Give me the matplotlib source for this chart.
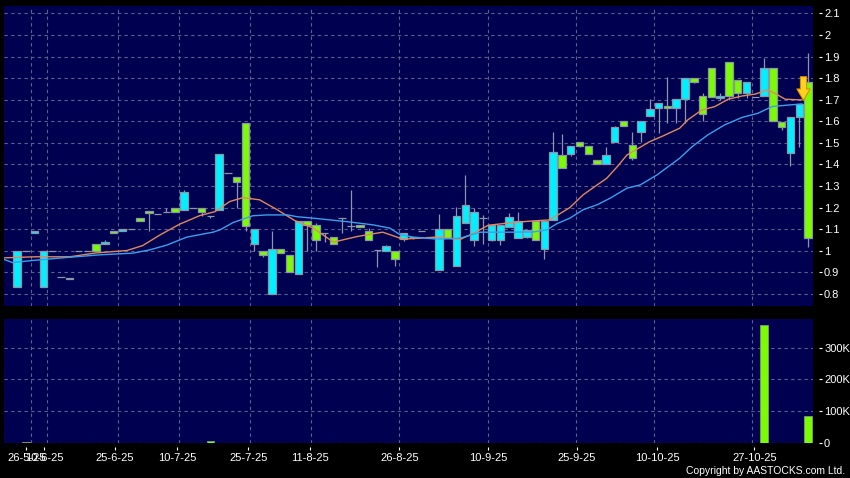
import matplotlib.pyplot as plt
import numpy as np
from matplotlib.path import Path
from matplotlib.ticker import FuncFormatter

plt.rcParams['font.family'] = ['Liberation Sans', 'DejaVu Sans']

# daily candles, oldest first (one entry per trading day on the chart)
opens = [0.83, 1.00, 1.08, 0.83, 1.00, 0.88, 0.87, 1.00, 1.00, 1.03,
         1.03, 1.09, 1.09, 1.10, 1.15, 1.185, 1.17, 1.18, 1.20, 1.19,
         1.20, 1.20, 1.16, 1.19, 1.36, 1.34, 1.59, 1.03, 1.00, 0.80,
         1.01, 0.98, 0.89, 1.14, 1.12, 1.08, 1.065, 1.15, 1.115, 1.117,
         1.09, 1.005, 1.00, 1.00, 1.055, 1.063, 1.09, 1.063, 0.91, 1.10,
         0.93, 1.13, 1.05, 1.15, 1.05, 1.05, 1.112, 1.058, 1.066, 1.137,
         1.01, 1.143, 1.443, 1.449, 1.503, 1.487, 1.419, 1.401, 1.503, 1.60,
         1.489, 1.549, 1.623, 1.66, 1.671, 1.66, 1.702, 1.802, 1.718, 1.849,
         1.709, 1.873, 1.791, 1.73, 1.711, 1.718, 1.849, 1.598, 1.452, 1.621,
         1.783]
highs = [1.00, 1.00, 1.09, 1.00, 1.00, 0.88, 0.875, 1.00, 1.00, 1.03,
         1.05, 1.09, 1.10, 1.10, 1.15, 1.185, 1.17, 1.20, 1.20, 1.28,
         1.20, 1.20, 1.16, 1.45, 1.36, 1.34, 1.59, 1.10, 1.00, 1.09,
         1.01, 0.98, 1.14, 1.14, 1.13, 1.08, 1.065, 1.15, 1.28, 1.117,
         1.105, 1.005, 1.025, 1.00, 1.08, 1.063, 1.09, 1.063, 1.17, 1.10,
         1.205, 1.35, 1.20, 1.165, 1.117, 1.117, 1.174, 1.18, 1.094, 1.137,
         1.137, 1.55, 1.54, 1.487, 1.503, 1.487, 1.419, 1.482, 1.58, 1.60,
         1.549, 1.60, 1.702, 1.683, 1.804, 1.702, 1.802, 1.802, 1.73, 1.849,
         1.73, 1.873, 1.791, 1.782, 1.711, 1.892, 1.849, 1.598, 1.621, 1.682,
         1.915]
lows = [0.83, 1.00, 1.08, 0.83, 1.00, 0.88, 0.87, 1.00, 1.00, 1.00,
        1.03, 1.08, 1.09, 1.10, 1.14, 1.09, 1.17, 1.18, 1.18, 1.19,
        1.20, 1.16, 1.15, 1.19, 1.36, 1.20, 1.09, 1.00, 0.97, 0.80,
        0.99, 0.90, 0.89, 1.00, 1.00, 1.04, 1.03, 1.08, 1.09, 1.108,
        1.05, 0.925, 1.00, 0.93, 1.045, 1.055, 1.09, 1.063, 0.91, 1.06,
        0.93, 1.13, 1.02, 1.03, 1.045, 1.027, 1.112, 1.058, 1.06, 1.05,
        0.96, 1.143, 1.382, 1.44, 1.48, 1.45, 1.401, 1.401, 1.503, 1.58,
        1.42, 1.503, 1.623, 1.547, 1.591, 1.59, 1.59, 1.775, 1.603, 1.711,
        1.70, 1.70, 1.71, 1.71, 1.711, 1.718, 1.601, 1.56, 1.393, 1.48,
        1.017]
closes = [1.00, 1.00, 1.09, 1.00, 1.00, 0.88, 0.875, 1.00, 1.00, 1.00,
          1.04, 1.08, 1.10, 1.10, 1.14, 1.175, 1.17, 1.18, 1.18, 1.27,
          1.20, 1.18, 1.16, 1.45, 1.36, 1.32, 1.115, 1.10, 0.98, 1.01,
          0.99, 0.90, 1.14, 1.12, 1.05, 1.08, 1.03, 1.15, 1.115, 1.108,
          1.05, 1.005, 1.02, 0.96, 1.08, 1.063, 1.09, 1.063, 1.10, 1.06,
          1.16, 1.21, 1.18, 1.15, 1.117, 1.117, 1.158, 1.137, 1.094, 1.05,
          1.137, 1.459, 1.382, 1.487, 1.487, 1.45, 1.401, 1.443, 1.572, 1.58,
          1.429, 1.60, 1.658, 1.683, 1.66, 1.702, 1.802, 1.782, 1.632, 1.711,
          1.718, 1.718, 1.73, 1.782, 1.711, 1.849, 1.601, 1.572, 1.621, 1.682,
          1.058]
volumes = [0] * 91
volumes[1] = 4000
volumes[22] = 6000
volumes[56] = 1000
volumes[61] = 1000
volumes[71] = 1000
volumes[85] = 370000
volumes[90] = 85000

# moving averages (candle index, price)
ma_fast_idx = [-1.5, 2, 6, 9, 12.5, 14.3, 16.3, 18.5, 20.8, 22.5, 24.2, 25.7,
               27.6, 29.6, 31.6, 33.7, 36, 38.7, 41.6, 43.9, 45.8, 47.8, 50.4,
               51.9, 53.6, 56.4, 58.7, 60.6, 62.9, 64.4, 66, 67.1, 68.3, 69.4,
               70.5, 72, 73.5, 75.4, 76.3, 77.9, 79.4, 80.9, 82.5, 84, 85.4,
               86.2, 87.4, 89.3]
ma_fast = [0.967, 0.972, 0.972, 0.99, 1.001, 1.024, 1.074, 1.123, 1.163, 1.181,
           1.228, 1.246, 1.236, 1.19, 1.14, 1.105, 1.04, 1.066, 1.086, 1.054,
           1.058, 1.063, 1.052, 1.08, 1.118, 1.131, 1.138, 1.143, 1.20, 1.259,
           1.305, 1.336, 1.39, 1.444, 1.47, 1.506, 1.532, 1.568, 1.606, 1.652,
           1.668, 1.702, 1.717, 1.726, 1.745, 1.73, 1.702, 1.699]
ma_slow_idx = [-1.5, -0.5, 1.8, 5.7, 9.4, 13.2, 15.1, 17.1, 19.3, 22.3, 23.1,
               24.6, 26.8, 28.4, 30.8, 31.8, 33.7, 37.5, 40.5, 42.4, 43.6, 45.1,
               47.8, 50.4, 52.7, 55.7, 58.7, 60.3, 61.4, 62.9, 64.4, 66, 67.5,
               69.4, 70.9, 72.8, 75.4, 76.8, 78.6, 80.5, 82.5, 84.3, 85.9, 87.7,
               89.3]
ma_slow = [0.96, 0.945, 0.955, 0.969, 0.981, 0.989, 1.004, 1.027, 1.063, 1.086,
           1.097, 1.131, 1.162, 1.166, 1.166, 1.158, 1.151, 1.135, 1.12, 1.105,
           1.074, 1.063, 1.054, 1.058, 1.086, 1.086, 1.087, 1.097, 1.125, 1.151,
           1.19, 1.213, 1.244, 1.29, 1.305, 1.351, 1.429, 1.482, 1.537, 1.583,
           1.618, 1.637, 1.668, 1.675, 1.68]

# signal arrow on the chart (candle index, price at its tip)
arrow_idx = 89.45
arrow_tip = 1.70

date_labels = ['26-5-25', '10-6-25', '25-6-25', '10-7-25', '25-7-25', '11-8-25',
               '26-8-25', '10-9-25', '25-9-25', '10-10-25', '27-10-25']
date_tick_idx = [1.06, 3.11, 11.15, 18.24, 26.31, 33.37, 43.49, 53.62, 63.71,
                 72.84, 83.88]
date_grid_idx = [1.56, 3.45, 11.52, 18.46, 26.54, 33.48, 43.49, 53.55, 63.56,
                 72.5, 83.58]

UP = '#00f0ff'
DOWN = '#7cfc00'
EDGE = '#8c96a8'
NAVY = '#000050'
GRID = '#5e5e90'

idx = np.arange(len(opens))
o = np.array(opens)
c = np.array(closes)
body_lo = np.minimum(o, c)
body_h = np.abs(c - o)
colors = [UP if cc >= oo else DOWN for oo, cc in zip(o, c)]

fig = plt.figure(figsize=(8.5, 4.78), dpi=100, facecolor='black')
ax = fig.add_axes([4 / 850, 1 - 306 / 478, 809 / 850, 300 / 478])
axv = fig.add_axes([4 / 850, 1 - 443 / 478, 809 / 850, 124 / 478])

for a in (ax, axv):
    a.set_facecolor(NAVY)
    for s in a.spines.values():
        s.set_visible(False)
    a.spines['right'].set_position(('outward', 4))
    a.spines['bottom'].set_position(('outward', 3))
    a.yaxis.tick_right()
    a.tick_params(axis='y', direction='out', length=2.5, width=0.8,
                  colors='white', labelsize=8, pad=1.5)
    a.grid(axis='y', color=GRID, linestyle=(0, (3, 3)), linewidth=0.8)
    for g in date_grid_idx:
        a.axvline(g, color=GRID, linestyle=(0, (3, 3)), linewidth=0.8, zorder=0.5)
    a.set_axisbelow(True)
    a.set_xlim(-1.48, 90.56)

# price panel
ax.vlines(idx, lows, highs, color=EDGE, linewidth=0.9, zorder=2)
ax.bar(idx, body_h, bottom=body_lo, width=0.85, color=colors,
       edgecolor=EDGE, linewidth=0.9, zorder=3)
ax.plot(ma_fast_idx, ma_fast, color='#e0895e', linewidth=1.0, zorder=4)
ax.plot(ma_slow_idx, ma_slow, color='#3d9fec', linewidth=1.0, zorder=4)

arrow = Path([(-0.13, 0.5), (0.13, 0.5), (0.13, -0.02), (0.28, -0.02),
              (0.0, -0.5), (-0.28, -0.02), (-0.13, -0.02), (-0.13, 0.5)],
             closed=True)
ax.plot([arrow_idx], [arrow_tip + 0.053], marker=arrow, markersize=17,
        markerfacecolor='#ffd21e', markeredgecolor='#e08a00',
        markeredgewidth=0.8, linestyle='none', zorder=6)

ax.set_ylim(0.744, 2.134)
ax.set_yticks(np.round(np.arange(0.8, 2.15, 0.1), 1))
ax.yaxis.set_major_formatter(FuncFormatter(lambda v, p: f'{v:g}'))
ax.tick_params(axis='x', length=0, labelbottom=False)

# volume panel
axv.bar(idx, volumes, width=0.85, color=DOWN, edgecolor='#7a9a7a',
        linewidth=0.6, zorder=3)
axv.set_ylim(0, 390000)
axv.set_yticks([0, 100000, 200000, 300000])
axv.yaxis.set_major_formatter(
    FuncFormatter(lambda v, p: '0' if v == 0 else f'{int(v / 1000)}K'))
axv.set_xticks(date_tick_idx)
axv.set_xticklabels(date_labels)
axv.tick_params(axis='x', direction='out', length=2.5, width=0.8,
                colors='white', labelsize=8, pad=2)

fig.text(845 / 850, 2 / 478, 'Copyright by AASTOCKS.com Ltd.', ha='right',
         va='bottom', color='white', fontsize=7.5)

fig.savefig('out.png', dpi=100, facecolor='black')
